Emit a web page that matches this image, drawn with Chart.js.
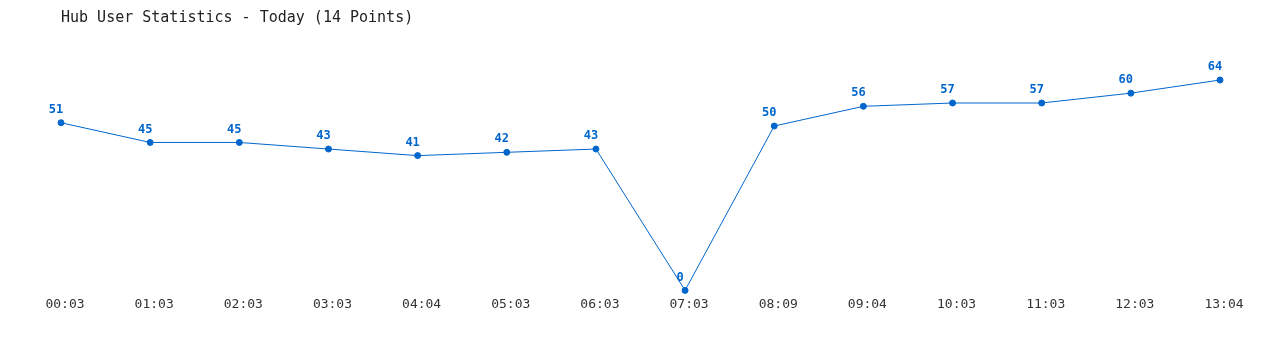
<!DOCTYPE html>
<html>
<head>
<meta charset="utf-8">
<script src="https://cdn.jsdelivr.net/npm/chart.js@4"></script>
<style>
html,body{margin:0;padding:0;background:#fff;}
#wrap{width:1280px;height:350px;position:relative;}
</style>
</head>
<body>
<div id="wrap"><canvas id="c" width="1280" height="350"></canvas></div>
<script>
const titleText = "Hub User Statistics - Today (14 Points)";
const categories = ["00:03","01:03","02:03","03:03","04:04","05:03","06:03","07:03","08:09","09:04","10:03","11:03","12:03","13:04"];
const userCounts = [51,45,45,43,41,42,43,0,50,56,57,57,60,64];

const lineColor = "#0066cc";
const monoFont = "'DejaVu Sans Mono', 'Liberation Mono', monospace";

const valueLabels = {
  id: "valueLabels",
  afterDatasetsDraw(chart) {
    const ctx = chart.ctx;
    const meta = chart.getDatasetMeta(0);
    ctx.save();
    ctx.font = "bold 12px " + monoFont;
    ctx.fillStyle = lineColor;
    ctx.textAlign = "center";
    ctx.textBaseline = "middle";
    meta.data.forEach((pt, i) => {
      ctx.fillText(String(chart.data.datasets[0].data[i]), pt.x - 5, pt.y - 13);
    });
    ctx.restore();
  }
};

new Chart(document.getElementById("c"), {
  type: "line",
  data: {
    labels: categories,
    datasets: [{
      data: userCounts,
      borderColor: lineColor,
      backgroundColor: lineColor,
      borderWidth: 1,
      pointRadius: 3,
      pointHoverRadius: 3,
      pointBackgroundColor: lineColor,
      pointBorderColor: lineColor,
      tension: 0,
      clip: false
    }]
  },
  options: {
    responsive: false,
    animation: false,
    events: [],
    layout: { padding: { left: 61, right: 60, top: 0, bottom: 40 } },
    plugins: {
      legend: { display: false },
      tooltip: { enabled: false },
      title: {
        display: true,
        text: titleText,
        align: "start",
        color: "#222",
        font: { family: monoFont, size: 15, weight: "normal" },
        padding: { top: 9, bottom: 53 }
      }
    },
    scales: {
      x: {
        offset: false,
        grid: { display: false },
        border: { display: false },
        ticks: {
          color: "#333",
          font: { family: monoFont, size: 13 },
          padding: -2,
          labelOffset: 4,
          maxRotation: 0,
          autoSkip: false
        }
      },
      y: {
        display: false,
        min: 0,
        max: 64
      }
    }
  },
  plugins: [valueLabels]
});
</script>
</body>
</html>
